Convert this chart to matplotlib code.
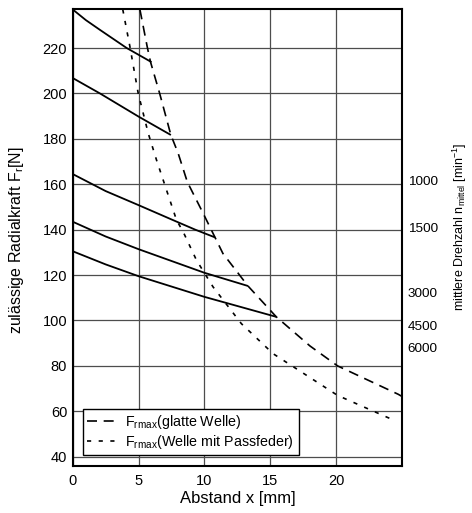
import matplotlib
matplotlib.use("Agg")
import matplotlib.pyplot as plt

plt.rcParams['font.family'] = ['Liberation Sans', 'DejaVu Sans']
plt.rcParams['mathtext.fontset'] = 'custom'
plt.rcParams['mathtext.rm'] = 'Liberation Sans'
plt.rcParams['mathtext.it'] = 'Liberation Sans'

# Kennlinien je Drehzahl (Abstand x [mm], zulässige Radialkraft [N])
x_1000 = [0, 1, 2.07, 4.1, 5.98]
F_1000 = [237, 232.3, 228, 220, 213.8]
x_1500 = [0, 2.07, 5, 7.45]
F_1500 = [206.8, 200, 189.8, 181.7]
x_3000 = [0, 2.5, 5, 7.5, 9.3, 10.8]
F_3000 = [164.5, 157, 150.8, 144.5, 140, 136.6]
x_4500 = [0, 2.5, 5, 10, 13.3]
F_4500 = [143.5, 137, 131.4, 121, 115.2]
x_6000 = [0, 2.5, 5, 10, 15.45]
F_6000 = [130.5, 124.7, 119.5, 110.4, 101.6]

# Grenzkurven
x_glatt = [5.1, 5.65, 5.9, 6.6, 7.45, 8.0, 8.7, 9.9, 10.8, 11.4, 13.3, 15.45, 18.0, 20.1, 24.7, 25]
F_glatt = [237, 220.7, 214, 200, 181.7, 173.7, 161, 147.2, 136.6, 129.5, 115.2, 101.6, 88.8, 80, 67.5, 66.5]
x_pass = [3.8, 4.34, 4.97, 5.73, 6.36, 7.88, 8.38, 9.39, 10.65, 12.8, 15.2, 20.1, 24.4]
F_pass = [237, 220.7, 200.1, 182.5, 170.7, 144.2, 139.1, 126.6, 114.8, 98.6, 85.4, 67, 56]

drehzahl_labels = ['1000', '1500', '3000', '4500', '6000']
drehzahl_pos = [161.8, 140.9, 112.4, 97.6, 88.3]

fig = plt.figure(figsize=(4.72, 5.13), dpi=100)
ax = fig.add_axes([0.154, 0.0916, 0.698, 0.89])

for xs, Fs in [(x_1000, F_1000), (x_1500, F_1500), (x_3000, F_3000),
               (x_4500, F_4500), (x_6000, F_6000)]:
    ax.plot(xs, Fs, color='black', lw=1.3, solid_capstyle='butt')

ax.plot(x_glatt, F_glatt, color='black', lw=1.2, dashes=(6, 4),
        label=r'F$_{\mathrm{rmax}}$(glatte Welle)')
ax.plot(x_pass, F_pass, color='black', lw=1.2, dashes=(2.5, 4.5),
        label=r'F$_{\mathrm{rmax}}$(Welle mit Passfeder)')

ax.set_xlim(0, 25)
ax.set_ylim(35.9, 237)
ax.set_xticks([0, 5, 10, 15, 20])
ax.set_yticks(range(40, 221, 20))
ax.grid(True, color='#4d4d4d', lw=0.9)
ax.set_axisbelow(True)
ax.tick_params(length=0, labelsize=10.5)
ax.tick_params(axis='x', pad=6)
ax.tick_params(axis='y', pad=4)
for s in ax.spines.values():
    s.set_linewidth(1.5)

ax.set_xlabel('Abstand x [mm]', fontsize=12, labelpad=2)
fig.text(17 / 472, 1 - 240 / 513, r'zulässige Radialkraft F$_{\mathrm{r}}$[N]',
         rotation=90, ha='center', va='center', fontsize=11.5)

ax2 = ax.twinx()
ax2.set_ylim(ax.get_ylim())
ax2.set_yticks(drehzahl_pos)
ax2.set_yticklabels(drehzahl_labels)
ax2.tick_params(length=0, labelsize=9.7, pad=4)
for s in ax2.spines.values():
    s.set_visible(False)
fig.text(460 / 472, 1 - 227 / 513, r'mittlere Drehzahl n$_{\mathrm{mittel}}$ [min$^{\mathrm{-1}}$]',
         rotation=90, ha='center', va='center', fontsize=9)

leg = ax.legend(loc='lower left', bbox_to_anchor=(0.03, 0.024), fontsize=10.3,
                frameon=True, fancybox=False, borderaxespad=0, handlelength=2.0,
                handletextpad=0.7, borderpad=0.3, labelspacing=0.1)
leg.get_frame().set_edgecolor('black')
leg.get_frame().set_linewidth(1.0)
leg.get_frame().set_alpha(1)

fig.savefig('out.png', dpi=100)
